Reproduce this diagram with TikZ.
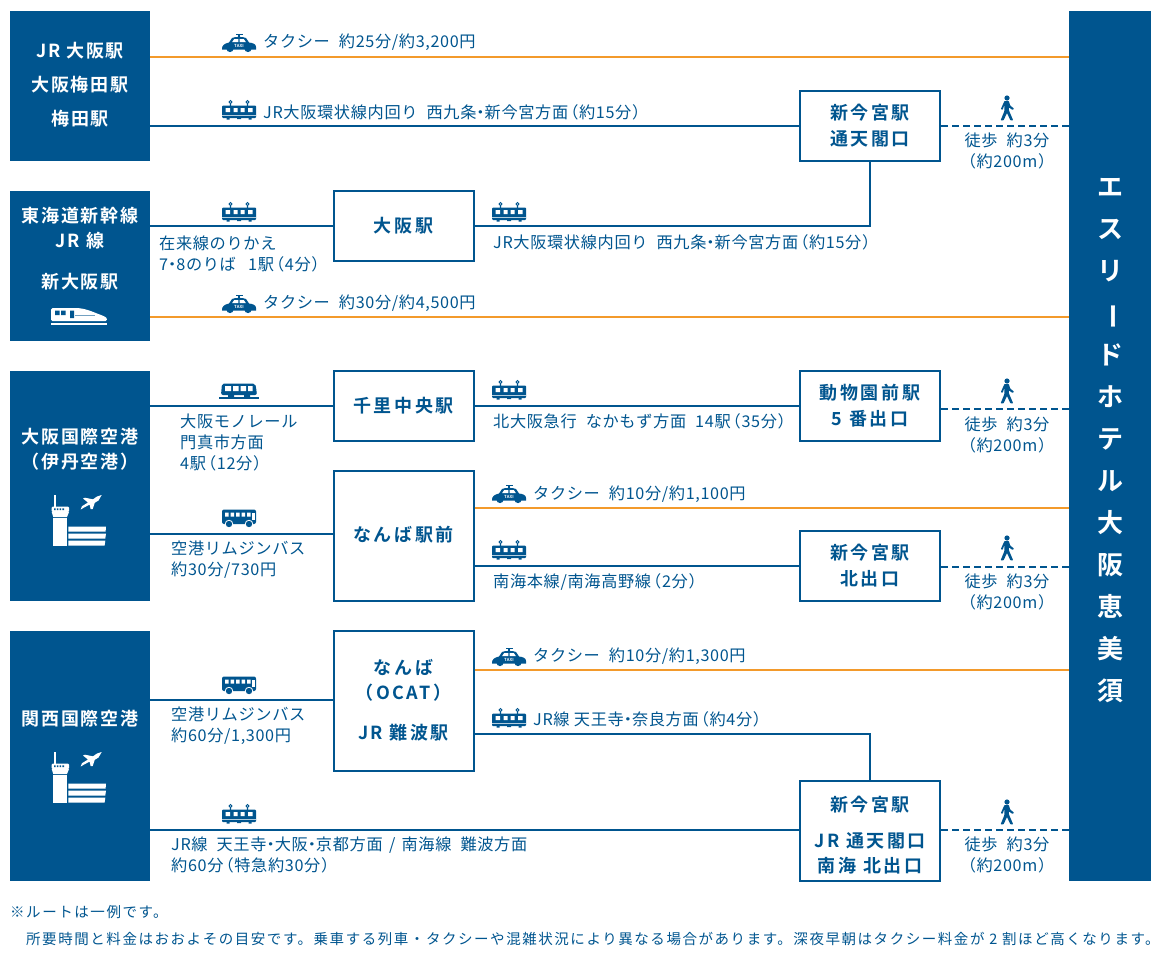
\documentclass[tikz,border=0pt]{standalone}
\usepackage{fontspec}
\setmainfont{Noto Sans CJK JP}[BoldFont={Noto Sans CJK JP Bold},LetterSpace=4]
\newfontfamily\boxfont{Noto Sans CJK JP Bold}[LetterSpace=14]
\newfontfamily\origfont{Noto Sans CJK JP Bold}[LetterSpace=10]
\newfontfamily\barfont{Noto Sans CJK JP Bold}
\newfontfamily\notefont{Noto Sans CJK JP}[LetterSpace=10.7]
\definecolor{navy}{HTML}{00558F}
\definecolor{amber}{HTML}{F39A2B}
\newcommand{\gp}{\hspace{9pt}}
\newcommand{\lp}{\kern-6pt（}
\newcommand{\rp}{）\kern-6pt}
\newcommand{\dt}{\kern-4pt・\kern-4pt}
\tikzset{
  hub/.style={draw=navy,line width=2pt,fill=white,inner sep=0pt,text=navy,align=center,font=\boxfont\fontsize{18}{25}\selectfont},
  origin/.style={fill=navy,draw=none,inner sep=0pt,text=white,align=center,font=\origfont\fontsize{18}{25}\selectfont},
  lbl/.style={text=navy,inner sep=0pt,anchor=west,align=left,font=\fontsize{16.2}{21}\selectfont},
  walklbl/.style={text=navy,inner sep=0pt,anchor=center,align=center,font=\fontsize{16.2}{21}\selectfont},
  rail/.style={draw=navy,line width=2pt},
  road/.style={draw=amber,line width=2.4pt},
  foot/.style={draw=navy,line width=2pt,dash pattern=on 7pt off 4pt},
  note/.style={text=navy,inner sep=0pt,anchor=west,font=\notefont\fontsize{14.5}{18}\selectfont},
}
% icons: (x,y) = centre of the icon
\newcommand{\icotaxi}[2]{\begin{scope}[shift={(#1,#2)}]
  \fill[navy] (-17,6.5) .. controls (-17.5,2) and (-14,0.5) .. (-10,-0.5) -- (-7,-5) .. controls (-4,-6.5) and (4,-6.5) .. (7,-5) -- (10,-0.5) .. controls (14,0) and (17,1) .. (17,4) -- (17,6.5) -- cycle;
  \fill[navy] (-1,-9.5) rectangle (1,-5);
  \fill[navy] (-3.5,-9) rectangle (3.5,-7.8);
  \fill[white] (-4.8,-4) -- (-0.6,-4) -- (-0.6,-1) -- (-6.8,-1) -- cycle;
  \fill[white] (0.6,-4) -- (4.8,-4) -- (6.8,-1) -- (0.6,-1) -- cycle;
  \fill[navy] (-9,5.5) circle (3.6) (9,5.5) circle (3.6);
  \node[text=white,inner sep=0pt,font=\bfseries\fontsize{4.2}{5}\selectfont] (taxi-#1-#2) at (0,3) {TAXI};
\end{scope}}
\newcommand{\icotrain}[2]{\begin{scope}[shift={(#1,#2)}]
  \draw[navy,line width=1pt] (-8.5,-9) circle (1.5) (8.5,-9) circle (1.5);
  \fill[navy] (-9.1,-7.8) rectangle (-7.9,-5) (7.9,-7.8) rectangle (9.1,-5);
  \fill[navy,rounded corners=1pt] (-17,-5.5) rectangle (17,7);
  \fill[white] (-13.5,-3) rectangle (-9,1) (-5.5,-3) rectangle (-1.5,1) (1.5,-3) rectangle (5.5,1) (9,-3) rectangle (13.5,1);
  \fill[white!70!navy] (-17,3.6) rectangle (17,4.3);
  \fill[navy] (-12.5,7) rectangle (-9.5,8.6) (9.5,7) rectangle (12.5,8.6) (-2,7) rectangle (2,8);
\end{scope}}
\newcommand{\icobus}[2]{\begin{scope}[shift={(#1,#2)}]
  \fill[navy,rounded corners=2pt] (-17,-8.5) rectangle (17,6);
  \fill[white] (-14,-5.5) rectangle (-10.5,-1.5) (-8.5,-5.5) rectangle (-5,-1.5) (-3,-5.5) rectangle (0.5,-1.5) (2.5,-5.5) rectangle (6,-1.5) (8,-5.5) rectangle (11.5,-1.5);
  \fill[white] (13,-5.5) rectangle (15.5,2);
  \fill[white] (-10,6) circle (4.2) (10,6) circle (4.2);
  \fill[navy] (-10,6) circle (3.2) (10,6) circle (3.2);
\end{scope}}
\newcommand{\icomono}[2]{\begin{scope}[shift={(#1,#2)}]
  \fill[navy,rounded corners=2pt] (-17,-7.5) -- (16,-7.5) .. controls (17,-4) and (17.5,0) .. (18,4) -- (-18,4) -- cycle;
  \fill[white] (-14,-5) rectangle (-8,0) (-6,-5) rectangle (-0.5,0) (1.5,-5) rectangle (7,0) (9,-5) rectangle (13.5,0);
  \fill[navy] (-20,5.5) rectangle (20,7.5);
  \fill[navy] (-11,3) rectangle (-5,6) (5,3) rectangle (11,6);
\end{scope}}
\newcommand{\icoshink}[2]{\begin{scope}[shift={(#1,#2)}]
  \fill[white,rounded corners=1.5pt] (-28,-8) -- (-5,-8) .. controls (6,-8) and (14,-4) .. (22,-1) .. controls (27,1) and (28,2) .. (28,5) -- (-28,5) -- cycle;
  \fill[navy] (-24,-5.5) rectangle (-19.5,-1) (-18,-5.5) rectangle (-13.5,-1) (-9,-5.5) rectangle (-5,2);
  \fill[navy!55!white] (-4,-1.5) rectangle (16,0);
  \fill[white] (-28,7) rectangle (28,8.6);
\end{scope}}
\newcommand{\icoair}[2]{\begin{scope}[shift={(#1,#2)}]
  \fill[white] (-0.6,0) rectangle (0.6,13);
  \fill[white,rounded corners=1pt] (-3.3,11.7) rectangle (14,17);
  \fill[white] (-3.3,17) -- (14,17) -- (12,22) -- (-1.7,22) -- cycle;
  \fill[navy] (-1,13.4) rectangle (0.6,15) (1.8,13.4) rectangle (3.4,15) (4.6,13.4) rectangle (6.2,15) (7.4,13.4) rectangle (9,15);
  \fill[white] (-1.7,22.6) rectangle (11.7,50.7);
  \fill[white] (13.3,31.7) -- (51,31.7) -- (50.6,36.7) -- (13.3,36.7) -- cycle;
  \fill[white] (13.3,38.6) -- (51,38.6) -- (50.3,43.6) -- (13.3,43.6) -- cycle;
  \fill[white] (13.3,45.7) -- (50.3,45.7) -- (49.6,50.7) -- (13.3,50.7) -- cycle;
  \fill[white] (46.7,0) -- (43.5,5.5) -- (39.8,7.8) -- (37.7,14) -- (35.6,14) -- (34.6,9.6) -- (29.5,12.3) -- (25.7,14.5) -- (27,11.2) -- (33,7.5) -- (28,3.5) -- (30,2.7) -- (38,4.3) -- (42,1.5) -- cycle;
\end{scope}}
\newcommand{\icowalk}[2]{\begin{scope}[shift={(#1,#2)}]
  \fill[navy] (0,-10) circle (2.6);
  \fill[navy,rounded corners=0.6pt] (-2.6,-7) -- (1.8,-7) -- (3.2,-2.5) -- (7,0.6) -- (5.6,2) -- (1.8,-0.6) -- (1.9,2.3) -- (6.2,12.4) -- (3.4,12.4) -- (0,5) -- (-3.5,12.4) -- (-6.4,12.4) -- (-2.6,3) -- (-2.6,-3.4) -- (-4.3,1.8) -- (-6.2,1.2) -- cycle;
\end{scope}}
\begin{document}
\begin{tikzpicture}[x=1pt,y=-1pt]
\useasboundingbox (0,0) rectangle (1160,961);
% terminals
\node[origin,minimum width=140pt,minimum height=150pt] (umeda) at (80,86) {};
\node[origin,minimum width=140pt,minimum height=150pt] (shinosaka) at (80,266) {};
\node[origin,minimum width=140pt,minimum height=230pt] (itami) at (80,486) {};
\node[origin,minimum width=140pt,minimum height=250pt] (kansai) at (80,756) {};
\node[origin,minimum width=82pt,minimum height=870pt] (hotel) at (1110,446) {};
% hubs
\node[hub,minimum width=140pt,minimum height=70pt] (tsutenkaku) at (870,126) {新今宮駅\\[1pt]通天閣口};
\node[hub,minimum width=140pt,minimum height=70pt] (osaka) at (403.5,226) {大阪駅};
\node[hub,minimum width=140pt,minimum height=70pt] (senri) at (403.5,406) {\raisebox{2.5pt}{千里中央駅}};
\node[hub,minimum width=140pt,minimum height=70pt] (dobutsuen) at (870,406) {動物園前駅\\[1pt]5 番出口};
\node[hub,minimum width=140pt,minimum height=130pt] (nambaekimae) at (403.5,536) {\raisebox{4pt}{なんば駅前}};
\node[hub,minimum width=140pt,minimum height=70pt] (kitaguchi) at (870,566) {新今宮駅\\[1pt]北出口};
\node[hub,minimum width=140pt,minimum height=140pt] (ocat) at (403.5,700.5) {なんば\\（OCAT）\\[15pt]JR 難波駅};
\node[hub,minimum width=140pt,minimum height=100pt] (nankai) at (870,831) {\rule{0pt}{24pt}新今宮駅\\[11pt]JR 通天閣口\\南海 北出口};
% terminal captions
\node[origin,fill=none] (tumeda) at (80,85) {JR 大阪駅\\[9pt]大阪梅田駅\\[9pt]梅田駅};
\node[origin,fill=none] (tshin1) at (80,228) {東海道新幹線\\JR 線};
\node[origin,fill=none] (tshin2) at (80,282) {新大阪駅};
\node[origin,fill=none] (titami) at (80,449.5) {大阪国際空港\\（伊丹空港）};
\node[origin,fill=none] (tkansai) at (80,719) {関西国際空港};
\icoshink{79}{316}
\icoair{55}{495}
\icoair{55}{752}
% hotel name
\node[text=white,inner sep=0pt,align=center,font=\barfont\fontsize{26}{42}\selectfont] (hotelname) at (1110,440.5) {エ\\ス\\リ\\\rotatebox[origin=c]{-90}{ー}\\ド\\ホ\\テ\\ル\\大\\阪\\恵\\美\\須};
% connectors
\draw[road] (umeda.east |- 0,57) -- (hotel.west |- 0,57);
\draw[rail] (umeda.east |- 0,126) -- (tsutenkaku.west |- 0,126);
\draw[foot] (tsutenkaku.east |- 0,126) -- (hotel.west |- 0,126);
\draw[rail] (shinosaka.east |- 0,226) -- (osaka.west);
\draw[rail] (osaka.east) -- (tsutenkaku.south |- osaka.east) -- (tsutenkaku.south);
\draw[road] (shinosaka.east |- 0,317) -- (hotel.west |- 0,317);
\draw[rail] (itami.east |- 0,406) -- (senri.west);
\draw[rail] (senri.east) -- (dobutsuen.west);
\draw[foot] (dobutsuen.east |- 0,409) -- (hotel.west |- 0,409);
\draw[rail] (itami.east |- 0,534) -- (nambaekimae.west |- 0,534);
\draw[road] (nambaekimae.east |- 0,508) -- (hotel.west |- 0,508);
\draw[rail] (nambaekimae.east |- 0,566) -- (kitaguchi.west);
\draw[foot] (kitaguchi.east |- 0,567) -- (hotel.west |- 0,567);
\draw[rail] (kansai.east |- 0,700) -- (ocat.west |- 0,700);
\draw[road] (ocat.east |- 0,670) -- (hotel.west |- 0,670);
\draw[rail] (ocat.east |- 0,734) -- (nankai.north |- 0,734) -- (nankai.north);
\draw[rail] (kansai.east |- 0,830) -- (nankai.west |- 0,830);
\draw[foot] (nankai.east |- 0,830) -- (hotel.west |- 0,830);
% icons
\icotaxi{239}{43}
\icotrain{239}{111}
\icotrain{239}{213}
\icotrain{509}{213}
\icotaxi{239}{304}
\icomono{239}{391}
\icotrain{509}{391}
\icobus{239}{518}
\icotaxi{509}{494}
\icotrain{509}{551}
\icobus{239}{685}
\icotaxi{509}{657}
\icotrain{509}{719}
\icotrain{239}{815}
\icowalk{1007}{108}
\icowalk{1007}{391}
\icowalk{1007}{548}
\icowalk{1007}{812}
% labels
\node[lbl] (l1) at (263,42.5) {タクシー\gp 約25分/約3,200円};
\node[lbl] (l2) at (263,112.5) {JR大阪環状線内回り\gp 西九条\dt 新今宮方面\lp 約15分\rp};
\node[lbl] (l3) at (159,254) {在来線のりかえ\\7\dt 8のりば\hspace{8pt} 1駅\lp 4分\rp};
\node[lbl] (l4) at (493,242.5) {JR大阪環状線内回り\gp 西九条\dt 新今宮方面\lp 約15分\rp};
\node[lbl] (l5) at (263,303.5) {タクシー\gp 約30分/約4,500円};
\node[lbl] (l6) at (180,442.5) {大阪モノレール\\門真市方面\\4駅\lp 12分\rp};
\node[lbl] (l7) at (493,421.5) {北大阪急行\gp なかもず方面\gp 14駅\lp 35分\rp};
\node[lbl] (l8) at (533,494.5) {タクシー\gp 約10分/約1,100円};
\node[lbl] (l9) at (171,560) {空港リムジンバス\\約30分/730円};
\node[lbl] (l10) at (493,582.5) {南海本線/南海高野線\lp 2分\rp};
\node[lbl] (l11) at (533,656.5) {タクシー\gp 約10分/約1,300円};
\node[lbl] (l12) at (171,726) {空港リムジンバス\\約60分/1,300円};
\node[lbl] (l13) at (533,719.5) {JR線 天王寺\dt 奈良方面\lp 約4分\rp};
\node[lbl] (l14) at (171,855) {JR線\gp 天王寺\dt 大阪\dt 京都方面\hspace{2pt} / \hspace{2pt}南海線\gp 難波方面\\約60分\lp 特急約30分\rp};
\node[walklbl] (w1) at (1007,151) {徒歩\gp 約3分\\\lp 約200m\rp};
\node[walklbl] (w2) at (1007,435) {徒歩\gp 約3分\\\lp 約200m\rp};
\node[walklbl] (w3) at (1007,592) {徒歩\gp 約3分\\\lp 約200m\rp};
\node[walklbl] (w4) at (1007,855) {徒歩\gp 約3分\\\lp 約200m\rp};
\node[note] (n1) at (10,912) {※ルートは一例です。};
\node[note] (n2) at (26,939) {所要時間と料金はおおよその目安です。乗車する列車・タクシーや混雑状況により異なる場合があります。深夜早朝はタクシー料金が 2 割ほど高くなります。};
\end{tikzpicture}
\end{document}
